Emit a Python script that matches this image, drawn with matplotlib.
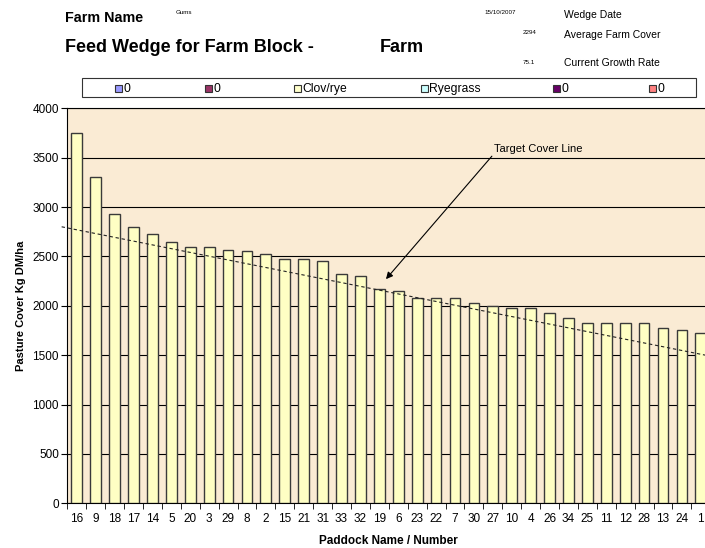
import matplotlib.pyplot as plt
from matplotlib.patches import Rectangle

plt.rcParams['font.family'] = ['Liberation Sans', 'DejaVu Sans']

paddocks = ['16', '9', '18', '17', '14', '5', '20', '3', '29', '8', '2', '15', '21', '31',
            '33', '32', '19', '6', '23', '22', '7', '30', '27', '10', '4', '26', '34', '25',
            '11', '12', '28', '13', '24', '1']
cover = [3750, 3300, 2925, 2800, 2725, 2650, 2600, 2600, 2560, 2550, 2525, 2475, 2475, 2450,
         2325, 2300, 2175, 2150, 2075, 2075, 2075, 2025, 2000, 1975, 1975, 1925, 1875, 1825,
         1825, 1825, 1825, 1775, 1750, 1725]
target_x = [-0.8, 33.5]
target_cover = [2800, 1490]

legend_labels = ['0', '0', 'Clov/rye', 'Ryegrass', '0', '0']
legend_colors = ['#9999FF', '#993366', '#FFFFCC', '#CCFFFF', '#660066', '#FF8080']

W, H = 705, 548


def px(x, y):
    # pixel position (from top-left) -> figure fraction
    return x / W, 1 - y / H


fig = plt.figure(figsize=(W / 100, H / 100), dpi=100)
ax = fig.add_axes([0.0955, 0.0816, 0.912, 0.7208])
ax.set_facecolor('#FAEBD4')

x = list(range(len(paddocks)))
ax.bar(x, cover, width=0.57, color='#FFFFC4', edgecolor='#3a3a3a', linewidth=1.0, zorder=3)
ax.plot(target_x, target_cover, color='#222222', linestyle=(0, (3, 2.5)), linewidth=0.8,
        zorder=4, clip_on=False)

ax.set_xlim(-0.5, len(paddocks) - 0.5)
ax.set_ylim(0, 4000)
ax.set_yticks(range(0, 4001, 500))
ax.yaxis.grid(True, color='black', linewidth=0.8, zorder=1)
ax.set_axisbelow(True)
ax.set_xticks(x)
ax.set_xticklabels(paddocks)
ax.set_xticks([i - 0.5 for i in x] + [len(x) - 0.5], minor=True)
ax.tick_params(axis='x', which='major', length=0, labelsize=8.5, pad=7)
ax.tick_params(axis='x', which='minor', length=4, direction='out')
ax.tick_params(axis='y', length=4, labelsize=8.5, pad=2)
ax.spines['right'].set_visible(False)
ax.spines['top'].set_linewidth(0.8)

ax.set_ylabel('Pasture Cover Kg DM/ha', fontsize=8, fontweight='bold', labelpad=5)
ax.set_xlabel('Paddock Name / Number', fontsize=8.5, fontweight='bold', labelpad=7)

ax.text(24.4, 3585, 'Target Cover Line', fontsize=8, ha='center', va='center')
ax.annotate('', xy=(16.35, 2270), xytext=(21.95, 3515),
            arrowprops=dict(arrowstyle='-|>', color='black', lw=0.8, shrinkA=0, shrinkB=0,
                            mutation_scale=10))

# legend box drawn by hand to keep the uneven spacing of the original
lx0, ly0 = px(82, 97.3)
lx1, ly1 = px(696, 78.3)
fig.add_artist(Rectangle((lx0, ly0), lx1 - lx0, ly1 - ly0, transform=fig.transFigure,
                         facecolor='white', edgecolor='#333333', linewidth=0.8))
marker_x = [118, 209, 297, 424, 556, 652]
for mx, label, color in zip(marker_x, legend_labels, legend_colors):
    sx, sy = px(mx - 3.5, 92)
    fig.add_artist(Rectangle((sx, sy), 7 / W, 7 / H, transform=fig.transFigure,
                             facecolor=color, edgecolor='#333333', linewidth=0.8))
    fig.text(*px(mx + 5, 88.5), label, fontsize=8.7, va='center')

fig.text(*px(65, 18), 'Farm Name', fontsize=10.3, fontweight='bold', va='center')
fig.text(*px(176, 13), 'Gums', fontsize=4.5, va='center')
fig.text(*px(65, 48), 'Feed Wedge for Farm Block -', fontsize=13, fontweight='bold', va='center')
fig.text(*px(380, 47), 'Farm', fontsize=13, fontweight='bold', va='center')
fig.text(*px(484, 13), '15/10/2007', fontsize=4.5, va='center')
fig.text(*px(523, 33), '2294', fontsize=4.5, va='center')
fig.text(*px(523, 63), '75.1', fontsize=4.5, va='center')
fig.text(*px(564, 15), 'Wedge Date', fontsize=7.5, va='center')
fig.text(*px(564, 35), 'Average Farm Cover', fontsize=7.5, va='center')
fig.text(*px(564, 63), 'Current Growth Rate', fontsize=7.5, va='center')

fig.savefig('out.png', dpi=100)
